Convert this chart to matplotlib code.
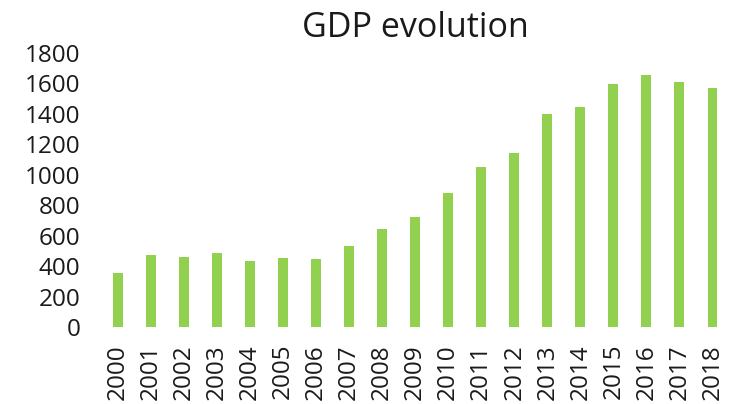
import matplotlib
matplotlib.use("Agg")
import matplotlib.pyplot as plt

years = [str(y) for y in range(2000, 2019)]
gdp = [358, 472, 463, 485, 434, 454, 448, 533, 644, 723,
       878, 1050, 1142, 1395, 1443, 1596, 1655, 1607, 1565]
yticks = list(range(0, 2000, 200))

plt.rcParams['font.family'] = ['Open Sans', 'DejaVu Sans']

fig = plt.figure(figsize=(7.29, 4.04), dpi=100)
ax = fig.add_axes([0.139, 0.19, 0.861, 0.68])

ax.bar(years, gdp, width=0.3, color='#92D050')

ax.set_xlim(-0.5, len(years) - 0.5)
ax.set_ylim(0, 1800)
ax.set_yticks(yticks)
ax.tick_params(axis='y', length=0, pad=15, labelsize=17.5, labelcolor='#1a1a1a')
ax.tick_params(axis='x', length=0, pad=12, labelsize=17.5, labelcolor='#1a1a1a', rotation=90)
for s in ax.spines.values():
    s.set_visible(False)

ax.set_title('GDP evolution', fontsize=24.5, pad=11, color='#1a1a1a')

fig.savefig('out.png', dpi=100)
